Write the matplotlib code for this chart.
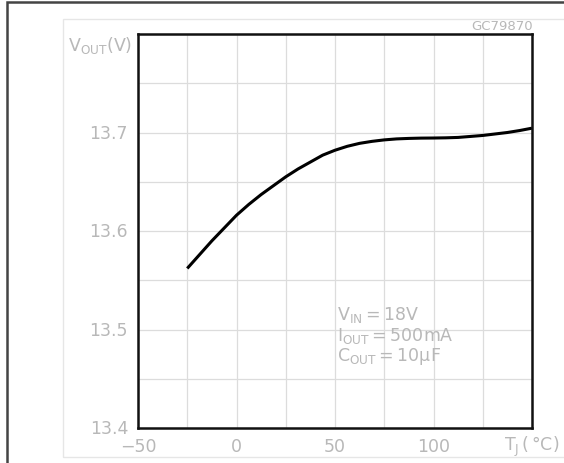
import matplotlib.pyplot as plt
from matplotlib.patches import Rectangle

# junction temperature (degC) and output voltage (V)
temp = [-25, -18.75, -12.5, -6.25, 0, 6.25, 12.5, 18.75, 25, 31.25, 37.5, 43.75, 50,
        56.25, 62.5, 68.75, 75, 81.25, 87.5, 93.75, 100, 106.25, 112.5, 118.75, 125,
        131.25, 137.5, 143.75, 150]
vout = [13.562, 13.576, 13.590, 13.603, 13.616, 13.627, 13.637, 13.646, 13.655,
        13.663, 13.670, 13.677, 13.682, 13.686, 13.689, 13.691, 13.6925, 13.6935,
        13.694, 13.6943, 13.6944, 13.6946, 13.695, 13.696, 13.697, 13.6985, 13.700,
        13.702, 13.7044]

x_ticks = [-50, 0, 50, 100]
x_labels = ['\u221250', '0', '50', '100']
y_ticks = [13.4, 13.5, 13.6, 13.7]
y_labels = ['13.4', '13.5', '13.6', '13.7']

W, H = 564, 464
txt = '#b8b8b8'
fs = 12.5

fig = plt.figure(figsize=(W / 100, H / 100), dpi=100)

# outer frame and light inner panel (both run off the right/bottom edge)
fig.patches.append(Rectangle((7 / W, -0.1), 1.2, 1 - 3 / H + 0.1, transform=fig.transFigure,
                             fill=False, edgecolor='#444444', linewidth=1.8))
fig.patches.append(Rectangle((63 / W, 1 - 458 / H), 1.2, (458 - 20) / H, transform=fig.transFigure,
                             fill=False, edgecolor='#e6e6e6', linewidth=1.0))

ax = fig.add_axes([138 / W, 1 - 429 / H, (532 - 138) / W, (429 - 35) / H])
ax.plot(temp, vout, color='black', linewidth=2.2, solid_capstyle='butt')

ax.set_xlim(-50, 150)
ax.set_ylim(13.4, 13.8)
ax.set_xticks(range(-50, 151, 25))
ax.set_yticks([13.4 + 0.05 * i for i in range(9)])
ax.grid(True, color='#dcdcdc', linewidth=0.9)
ax.tick_params(length=0, labelbottom=False, labelleft=False)
for s in ax.spines.values():
    s.set_linewidth(1.8)
    s.set_color('#111111')

for xv, lab in zip(x_ticks, x_labels):
    ax.text(xv, 13.4 - 18 / 985, lab, ha='center', va='center', color=txt, fontsize=fs)
ax.text(150, 13.4 - 18 / 985, r'$\mathregular{T_J\,(\,°C)}$', ha='center', va='center',
        color=txt, fontsize=fs, clip_on=False)
for yv, lab in zip(y_ticks, y_labels):
    ax.text(-50 - 10 / 1.97, yv, lab, ha='right', va='center', color=txt, fontsize=fs)
ax.text(-50 - 6 / 1.97, 13.8 - 10 / 985, r'$\mathregular{V_{OUT}(V)}$', ha='right', va='center',
        color=txt, fontsize=fs)

fig.text(533 / W, 1 - 26 / H, 'GC79870', ha='right', va='center', color=txt, fontsize=9.5)

notes = [r'$\mathregular{V_{IN}{=}18V}$', r'$\mathregular{I_{OUT}{=}500mA}$',
         r'$\mathregular{C_{OUT}{=}10\mu F}$']
for i, n in enumerate(notes):
    fig.text(337 / W, 1 - (315 + 21 * i) / H, n, ha='left', va='center', color=txt, fontsize=fs)

fig.savefig('out.png', dpi=100)
